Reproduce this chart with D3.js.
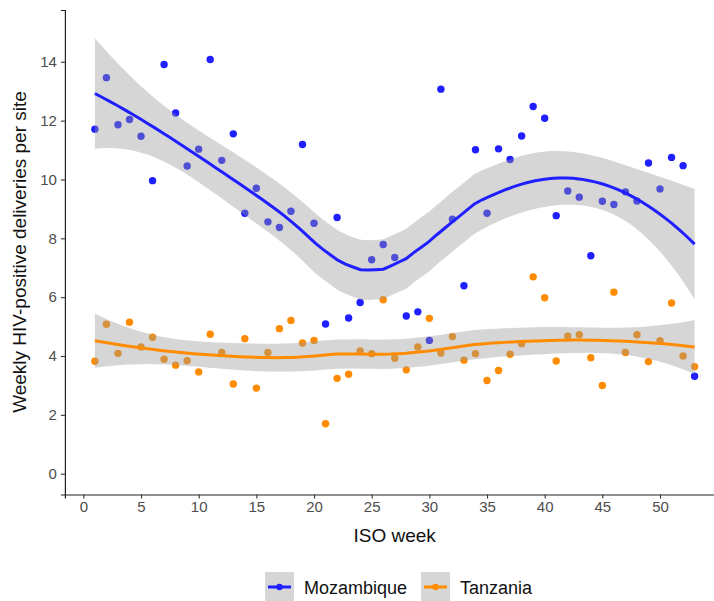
<!DOCTYPE html>
<meta charset="utf-8">
<script src="https://d3js.org/d3.v7.min.js"></script>
<style>
  body { margin: 0; background: #fff; }
  text { font-family: "Liberation Sans", Arial, sans-serif; }
</style>
<svg id="chart"></svg>
<script>
// chart data
var weeks = d3.range(1, 54);
var mozambique = [11.71, 13.46, 11.86, 12.04, 11.47, 9.96, 13.91, 12.26, 10.46, 11.03,
  14.08, 10.65, 11.55, 8.85, 9.70, 8.56, 8.37, 8.92, 11.19, 8.51,
  5.09, 8.71, 5.29, 5.82, 7.27, 7.79, 7.35, 5.36, 5.50, 4.53,
  13.07, 8.65, 6.39, 11.01, 8.85, 11.04, 10.68, 11.48, 12.48, 12.08,
  8.77, 9.61, 9.40, 7.41, 9.26, 9.15, 9.58, 9.27, 10.56, 9.68,
  10.75, 10.47, 3.31];
var tanzania = [3.82, 5.08, 4.09, 5.15, 4.31, 4.64, 3.89, 3.69, 3.84, 3.46,
  4.74, 4.12, 3.05, 4.59, 2.91, 4.12, 4.93, 5.21, 4.44, 4.53,
  1.70, 3.24, 3.38, 4.17, 4.08, 5.91, 3.92, 3.53, 4.31, 5.28,
  4.10, 4.66, 3.86, 4.08, 3.17, 3.51, 4.06, 4.42, 6.69, 5.98,
  3.83, 4.67, 4.72, 3.94, 3.00, 6.17, 4.12, 4.72, 3.81, 4.52,
  5.80, 4.00, 3.64];
var countries = ["Mozambique", "Tanzania"];
var colors = ["#1f1fff", "#ff8c00"];
var xTicks = [0, 5, 10, 15, 20, 25, 30, 35, 40, 45, 50];
var yTicks = [0, 2, 4, 6, 8, 10, 12, 14];

var width = 714, height = 601;
var svg = d3.select("#chart").attr("width", width).attr("height", height);

var x = d3.scaleLinear().domain([-1.6, 55.6]).range([64.9, 724.6]);
var y = d3.scaleLinear().domain([-0.707, 15.76]).range([494.5, 10]);

// loess (span .75, degree 2) with standard errors, like geom_smooth
function inv3(m) {
  var a = m[0][0], b = m[0][1], c = m[0][2], d = m[1][0], e = m[1][1], f = m[1][2],
      g = m[2][0], h = m[2][1], i = m[2][2];
  var A = e * i - f * h, B = -(d * i - f * g), C = d * h - e * g;
  var det = a * A + b * B + c * C;
  return [[A / det, -(b * i - c * h) / det, (b * f - c * e) / det],
          [B / det, (a * i - c * g) / det, -(a * f - c * d) / det],
          [C / det, -(a * h - b * g) / det, (a * e - b * d) / det]];
}
function loessRow(xs, x0, span) {
  var n = xs.length, q = Math.floor(n * span);
  var dist = xs.map(function(v) { return Math.abs(v - x0); });
  var h = dist.slice().sort(d3.ascending)[q - 1];
  var w = dist.map(function(dd) { var u = dd / h; return u < 1 ? Math.pow(1 - u * u * u, 3) : 0; });
  var S = [[0,0,0],[0,0,0],[0,0,0]];
  xs.forEach(function(v, k) {
    var t = v - x0, p = [1, t, t * t];
    for (var a = 0; a < 3; a++) for (var b = 0; b < 3; b++) S[a][b] += w[k] * p[a] * p[b];
  });
  var I = inv3(S);
  return xs.map(function(v, k) { var t = v - x0; return w[k] * (I[0][0] + I[0][1] * t + I[0][2] * t * t); });
}
function smooth(xs, ys) {
  var n = xs.length;
  var L = xs.map(function(v) { return loessRow(xs, v, 0.75); });
  var fitted = L.map(function(r) { return d3.sum(r, function(l, k) { return l * ys[k]; }); });
  var rss = d3.sum(fitted, function(f, k) { return (ys[k] - f) * (ys[k] - f); });
  var IL = L.map(function(r, i) { return r.map(function(l, j) { return (i === j ? 1 : 0) - l; }); });
  var M = [], one = 0, two = 0;
  for (var i = 0; i < n; i++) { M.push([]); for (var j = 0; j < n; j++) {
    var s = 0; for (var k = 0; k < n; k++) s += IL[k][i] * IL[k][j];
    M[i].push(s); } one += M[i][i]; }
  for (i = 0; i < n; i++) for (j = 0; j < n; j++) two += M[i][j] * M[i][j];
  var sig = Math.sqrt(rss / one), df = one * one / two, z = 1.959964;
  var tq = z + (z * z * z + z) / (4 * df) + (5 * Math.pow(z, 5) + 16 * z * z * z + 3 * z) / (96 * df * df);
  var grid = d3.range(80).map(function(k) { return xs[0] + (xs[n - 1] - xs[0]) * k / 79; });
  return grid.map(function(g) {
    var r = loessRow(xs, g, 0.75);
    var f = d3.sum(r, function(l, k) { return l * ys[k]; });
    var se = sig * Math.sqrt(d3.sum(r, function(l) { return l * l; }));
    return { x: g, y: f, lo: f - tq * se, hi: f + tq * se };
  });
}

var series = [mozambique, tanzania];
var plot = svg.append("g");

// points first, band drawn over them
series.forEach(function(vals, s) {
  plot.append("g").selectAll("circle").data(vals).enter().append("circle")
    .attr("cx", function(d, i) { return x(weeks[i]); })
    .attr("cy", function(d) { return y(d); })
    .attr("r", 3.7)
    .attr("fill", colors[s]);
});
series.forEach(function(vals, s) {
  var fit = smooth(weeks, vals);
  plot.append("path").datum(fit)
    .attr("fill", "#999999").attr("fill-opacity", 0.4)
    .attr("d", d3.area().x(function(d) { return x(d.x); })
      .y0(function(d) { return y(d.lo); }).y1(function(d) { return y(d.hi); }));
  plot.append("path").datum(fit)
    .attr("fill", "none").attr("stroke", colors[s]).attr("stroke-width", 3)
    .attr("d", d3.line().x(function(d) { return x(d.x); }).y(function(d) { return y(d.y); }));
});

// axes
var xAxis = svg.append("g").attr("transform", "translate(0,494.5)")
  .call(d3.axisBottom(x).tickValues(xTicks).tickSizeOuter(0).tickSize(4).tickPadding(3));
var yAxis = svg.append("g").attr("transform", "translate(64.9,0)")
  .call(d3.axisLeft(y).tickValues(yTicks).tickSizeOuter(0).tickSize(4).tickPadding(4));
[xAxis, yAxis].forEach(function(ax) {
  ax.select(".domain").attr("stroke", "#222").attr("stroke-width", 1.2);
  ax.selectAll(".tick line").attr("stroke", "#333").attr("stroke-width", 1.1);
  ax.selectAll(".tick text").attr("fill", "#4d4d4d").style("font-size", "15px")
    .style("font-family", "'Liberation Sans', Arial, sans-serif");
});

svg.append("text").attr("x", 394.7).attr("y", 542).attr("text-anchor", "middle")
  .style("font-size", "19px").attr("fill", "#111").text("ISO week");
svg.append("text").attr("transform", "translate(26,252) rotate(-90)").attr("text-anchor", "middle")
  .style("font-size", "19px").attr("fill", "#111").text("Weekly HIV-positive deliveries per site");

// legend
var legendX = [265, 421];
countries.forEach(function(c, s) {
  var g = svg.append("g").attr("transform", "translate(" + legendX[s] + ",572)");
  g.append("rect").attr("width", 29).attr("height", 30).attr("fill", "#d6d6d6");
  g.append("line").attr("x1", 3).attr("x2", 26).attr("y1", 15).attr("y2", 15)
    .attr("stroke", colors[s]).attr("stroke-width", 3);
  g.append("circle").attr("cx", 14.5).attr("cy", 15).attr("r", 3.2).attr("fill", colors[s]);
  g.append("text").attr("x", 39).attr("y", 21.5).style("font-size", "18px").attr("fill", "#111").text(c);
});
</script>
